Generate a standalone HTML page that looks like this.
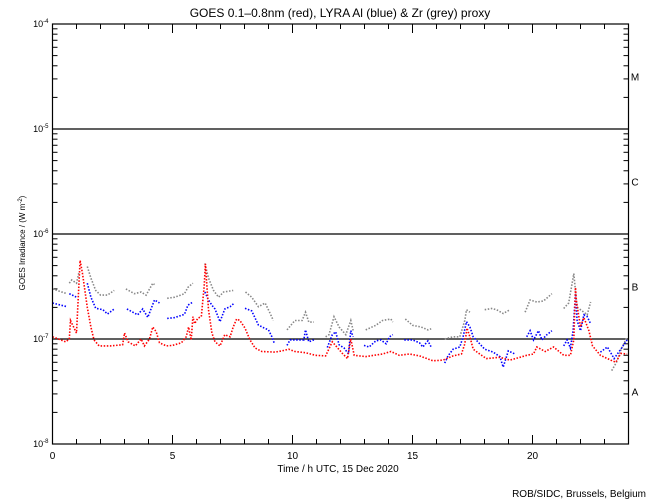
<!DOCTYPE html>
<html><head><meta charset="utf-8"><style>
body{margin:0;background:#fff;}
svg{display:block;font-family:"Liberation Sans",sans-serif;}
</style></head><body>
<svg id="chart" width="650" height="500"></svg>
<script>
const xTicks=[0,5,10,15,20];
const yDecades=[-8,-7,-6,-5,-4];
const classLabels=["A","B","C","M"];
const redT=[0,0.55,0.7,0.75,0.9,1.0,1.15,1.25,1.45,1.6,1.73,1.94,2.4,2.92,3.0,3.15,3.45,3.69,3.83,4.04,4.18,4.32,4.46,4.74,5.0,5.37,5.57,5.67,5.78,5.85,5.92,6.06,6.2,6.32,6.37,6.5,6.64,6.77,6.98,7.18,7.4,7.53,7.67,7.81,8.02,8.23,8.44,8.72,9.28,9.56,9.84,10.1,10.54,10.96,11.38,11.66,12.08,12.29,12.43,12.57,13.05,13.75,14.1,14.45,14.87,15.29,15.85,16.27,16.69,17.04,17.18,17.27,17.39,17.53,17.8,18.08,18.64,19.06,19.48,19.76,20.04,20.18,20.53,20.88,21.3,21.58,21.72,21.79,21.83,22.0,22.14,22.35,22.5,22.83,23.26,23.47,23.68,23.94];
const redV=[1.05e-7,0.94e-7,1.0e-7,1.5e-7,1.27e-7,1.14e-7,5.6e-7,4.2e-7,2.0e-7,1.3e-7,0.98e-7,0.86e-7,0.86e-7,0.88e-7,1.14e-7,0.94e-7,0.86e-7,1.0e-7,0.86e-7,1.0e-7,1.3e-7,1.17e-7,0.92e-7,0.86e-7,0.87e-7,0.92e-7,1.05e-7,1.3e-7,0.98e-7,1.63e-7,1.4e-7,1.58e-7,1.63e-7,3.2e-7,5.2e-7,1.9e-7,1.14e-7,0.94e-7,0.86e-7,1.1e-7,1.05e-7,1.3e-7,1.55e-7,1.5e-7,1.27e-7,0.98e-7,0.82e-7,0.76e-7,0.75e-7,0.77e-7,0.8e-7,0.76e-7,0.74e-7,0.7e-7,0.69e-7,0.94e-7,0.73e-7,0.65e-7,1.0e-7,0.7e-7,0.68e-7,0.72e-7,0.76e-7,0.7e-7,0.72e-7,0.69e-7,0.62e-7,0.63e-7,0.69e-7,0.72e-7,0.9e-7,1.27e-7,1.05e-7,0.8e-7,0.72e-7,0.65e-7,0.67e-7,0.63e-7,0.67e-7,0.7e-7,0.72e-7,0.84e-7,0.76e-7,0.84e-7,0.7e-7,0.7e-7,0.98e-7,3.1e-7,2.3e-7,1.3e-7,1.6e-7,1.2e-7,0.86e-7,0.7e-7,0.63e-7,0.6e-7,0.73e-7,0.72e-7];
const blueT=[0,0.6,null,0.7,0.85,1.0,null,1.45,1.6,1.8,2.1,2.29,2.57,null,3.1,3.55,3.76,3.97,4.25,4.46,null,4.78,5.09,5.5,5.64,5.85,null,6.35,6.5,6.64,6.77,6.98,7.18,7.4,7.58,null,8.02,8.3,8.58,8.79,9.0,9.14,9.25,null,9.77,9.9,10.2,10.47,10.54,10.68,10.89,null,11.45,11.66,11.8,11.94,12.15,12.33,12.43,12.53,null,12.98,13.19,13.47,13.68,13.9,14.04,14.18,null,14.66,15.0,15.29,15.43,15.64,15.78,null,16.34,16.48,16.69,16.97,17.11,17.25,17.39,17.53,18.01,18.36,18.64,18.78,18.99,19.27,null,19.76,19.9,20.04,20.25,20.39,20.6,20.81,null,21.3,21.44,21.58,21.69,21.79,21.86,22.0,22.14,22.28,22.42,null,22.83,23.12,23.4,23.68,23.94];
const blueV=[2.2e-7,2.03e-7,null,2.7e-7,2.6e-7,2.5e-7,null,3.4e-7,2.5e-7,1.96e-7,1.9e-7,1.73e-7,1.93e-7,null,1.93e-7,1.7e-7,1.93e-7,1.61e-7,2.35e-7,2.2e-7,null,1.57e-7,1.6e-7,1.72e-7,2.1e-7,2.25e-7,null,2.8e-7,2.35e-7,2.1e-7,1.93e-7,1.46e-7,1.93e-7,2.03e-7,2.2e-7,null,1.96e-7,1.85e-7,1.36e-7,1.28e-7,1.22e-7,1.05e-7,0.9e-7,null,0.87e-7,0.98e-7,0.98e-7,0.98e-7,1.22e-7,0.94e-7,0.98e-7,null,0.83e-7,1.1e-7,1.17e-7,0.88e-7,0.82e-7,0.72e-7,1.2e-7,1.05e-7,null,0.87e-7,0.84e-7,0.96e-7,0.98e-7,0.9e-7,1.05e-7,1.1e-7,null,0.98e-7,0.98e-7,0.92e-7,0.84e-7,0.96e-7,0.84e-7,null,0.59e-7,0.69e-7,0.8e-7,0.84e-7,1.05e-7,1.46e-7,1.3e-7,1.05e-7,0.8e-7,0.75e-7,0.68e-7,0.54e-7,0.77e-7,0.72e-7,null,1.05e-7,1.2e-7,0.98e-7,1.2e-7,0.98e-7,1.1e-7,1.2e-7,null,0.86e-7,0.98e-7,0.82e-7,1.2e-7,2.7e-7,1.5e-7,1.2e-7,1.7e-7,1.63e-7,1.4e-7,null,0.75e-7,0.84e-7,0.65e-7,0.8e-7,0.98e-7];
const greyT=[0,0.6,null,0.7,0.8,1.0,1.1,null,1.45,1.6,1.8,2.0,2.29,2.57,null,3.06,3.41,3.69,3.9,4.18,4.25,null,4.78,5.09,5.5,5.64,5.85,null,6.35,6.5,6.71,6.92,7.13,7.34,7.53,null,8.04,8.3,8.58,8.86,9.07,9.2,null,9.77,10.1,10.4,10.54,10.68,10.89,null,11.38,11.52,11.73,11.94,12.22,12.43,12.53,null,13.05,13.47,13.75,14.1,14.18,null,14.7,15.0,15.36,15.64,15.78,null,16.34,16.69,16.97,17.18,17.25,17.39,null,18.01,18.29,18.5,18.78,19.06,null,19.69,19.9,20.18,20.46,20.81,null,21.3,21.51,21.72,21.86,22.07,22.28,22.42,null,23.3,23.5,23.68,23.94];
const greyV=[3.0e-7,2.7e-7,null,3.4e-7,3.65e-7,3.4e-7,4.3e-7,null,4.9e-7,3.8e-7,2.9e-7,2.62e-7,2.62e-7,2.9e-7,null,3.0e-7,2.7e-7,2.8e-7,2.62e-7,3.4e-7,3.3e-7,null,2.44e-7,2.5e-7,2.7e-7,3.1e-7,3.4e-7,null,5.25e-7,3.8e-7,2.9e-7,2.5e-7,2.8e-7,2.85e-7,2.9e-7,null,2.8e-7,2.5e-7,2.03e-7,2.2e-7,1.75e-7,1.5e-7,null,1.22e-7,1.5e-7,1.5e-7,1.8e-7,1.45e-7,1.45e-7,null,1.05e-7,1.1e-7,1.63e-7,1.3e-7,1.1e-7,1.5e-7,1.2e-7,null,1.22e-7,1.35e-7,1.5e-7,1.55e-7,1.45e-7,null,1.55e-7,1.35e-7,1.3e-7,1.22e-7,1.25e-7,null,1.0e-7,1.05e-7,1.05e-7,1.5e-7,1.9e-7,1.8e-7,null,1.9e-7,1.95e-7,1.9e-7,1.75e-7,1.9e-7,null,1.8e-7,2.35e-7,2.25e-7,2.3e-7,2.7e-7,null,1.95e-7,2.2e-7,4.2e-7,2.0e-7,1.85e-7,1.7e-7,2.25e-7,null,0.5e-7,0.6e-7,0.78e-7,1.05e-7];

const NS="http://www.w3.org/2000/svg";
const svg=document.getElementById('chart');
const X0=52.5,X1=628.5,Y0=24,Y1=444;
function xs(t){return X0+(X1-X0)*t/24;}
function ys(v){return Y1-(Math.log10(v)+8)*(Y1-Y0)/4;}
function el(tag,attrs,parent){const e=document.createElementNS(NS,tag);for(const k in attrs)e.setAttribute(k,attrs[k]);(parent||svg).appendChild(e);return e;}

// title
let t=el('text',{x:340,y:17,'text-anchor':'middle','font-size':12});
t.textContent='GOES 0.1\u20130.8nm (red), LYRA Al (blue) & Zr (grey) proxy';



// decade lines
yDecades.forEach(d=>{
  const y=ys(Math.pow(10,d));
  if(d>-8&&d<-4){const l=el('line',{x1:X0,x2:X1,y1:y,y2:y,stroke:'#000','stroke-width':1.2});
    
    }
  const lb=el('text',{x:X0-4,y:y+3,'text-anchor':'end','font-size':9});
  lb.innerHTML='10<tspan dy="-4" font-size="6">'+d+'</tspan>';
  
  
  // minor ticks
  if(d<-4){for(let m=2;m<=9;m++){const yy=ys(m*Math.pow(10,d));
    el('line',{x1:X0,x2:X0+5,y1:yy,y2:yy,stroke:'#000'});
    el('line',{x1:X1-5,x2:X1,y1:yy,y2:yy,stroke:'#000'});}}
  el('line',{x1:X0,x2:X0+9,y1:y,y2:y,stroke:'#000'});
  el('line',{x1:X1-9,x2:X1,y1:y,y2:y,stroke:'#000'});
});
// class labels
classLabels.forEach((c,i)=>{
  const y=(ys(Math.pow(10,-8+i))+ys(Math.pow(10,-7+i)))/2;
  const lb=el('text',{x:635,y:y+4,'text-anchor':'middle','font-size':10});
  lb.textContent=c;
  
  
});
// x ticks
for(let h=0;h<=24;h++){const x=xs(h);const len=(h%5===0)?9:5;
  el('line',{x1:x,x2:x,y1:Y1,y2:Y1-len,stroke:'#000'});
  el('line',{x1:x,x2:x,y1:Y0,y2:Y0+len,stroke:'#000'});}
xTicks.forEach(h=>{const lb=el('text',{x:xs(h),y:459,'text-anchor':'middle','font-size':10});
  lb.textContent=h;
  
  });
let xt=el('text',{x:338,y:472,'text-anchor':'middle','font-size':10});
xt.textContent='Time / h UTC, 15 Dec 2020';


let yt=el('text',{x:0,y:0,'text-anchor':'middle','font-size':8,transform:'translate(25,243) rotate(-90)'});
yt.innerHTML='GOES Irradiance / (W m<tspan dy="-3" font-size="6">-2</tspan><tspan dy="3">)</tspan>';


let cr=el('text',{x:646,y:497,'text-anchor':'end','font-size':10});
cr.textContent='ROB/SIDC, Brussels, Belgium';



function series(T,V,color,name){
  const g=el('g',{});
  
  
  let pts=[];
  const flush=()=>{if(pts.length>1){el('polyline',{points:pts.join(' '),fill:'none',stroke:color,'stroke-width':1.6,'stroke-dasharray':'1.5 1.6'},g);}
    else if(pts.length===1){const p=pts[0].split(',');el('rect',{x:p[0]-1,y:p[1]-1,width:2,height:2,fill:color},g);}pts=[];};
  for(let i=0;i<T.length;i++){
    if(T[i]===null||V[i]===null){flush();continue;}
    pts.push(xs(T[i]).toFixed(1)+','+ys(V[i]).toFixed(1));
  }
  flush();
}
series(greyT,greyV,'#888','zr-grey-series');
series(blueT,blueV,'#0000ff','al-blue-series');
series(redT,redV,'#ff0000','goes-red-series');

let f=el('rect',{x:X0,y:Y0,width:X1-X0,height:Y1-Y0,fill:'none',stroke:'#000','stroke-width':1.2});


</script>
</body></html>
